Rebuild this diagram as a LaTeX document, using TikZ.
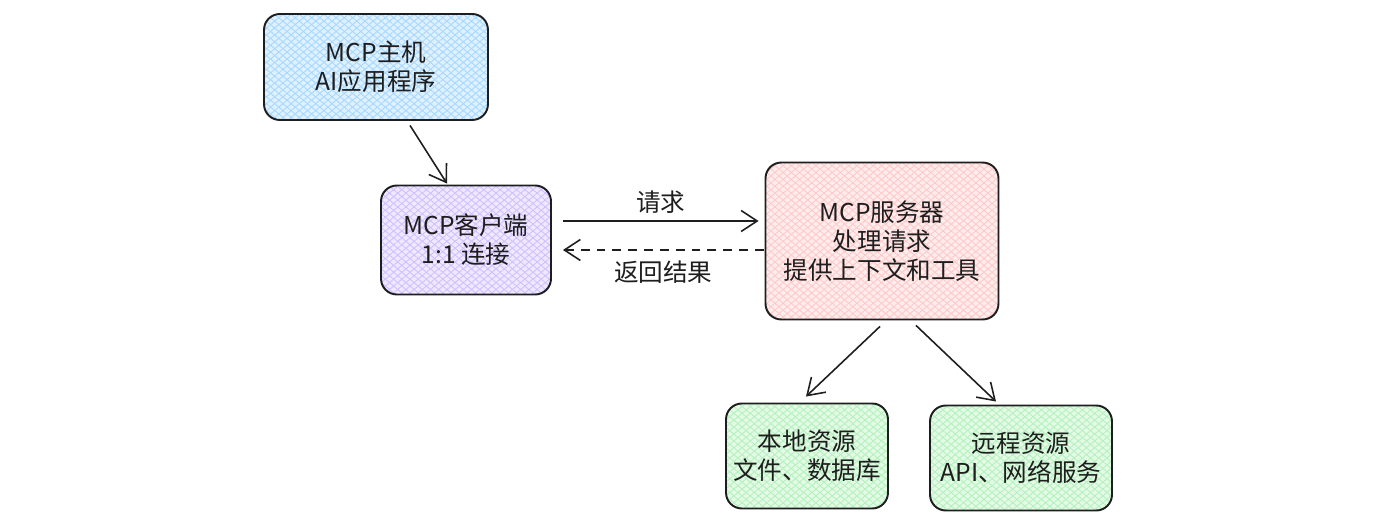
\documentclass[tikz,border=0pt]{standalone}
\usepackage{fontspec}
\setmainfont{Noto Sans CJK SC}
\usetikzlibrary{arrows.meta}
\usetikzlibrary{patterns.meta}
\definecolor{ink}{HTML}{1E1E1E}
\definecolor{c_blue}{HTML}{A5D8FF}
\definecolor{c_purple}{HTML}{D0BFFF}
\definecolor{c_pink}{HTML}{FFC9C9}
\definecolor{c_green}{HTML}{B2F2BB}
\tikzset{
	box/.style = {
		align=center,
		inner sep=0pt,
		text centered,
		font=\fontsize{14}{16.5}\selectfont,
		text=ink,
		draw=ink,
		line width=1.1pt,
		rounded corners=9pt,
		anchor=center
	},
	hatch/.style = {
		preaction={fill=#1!35},
		preaction={pattern={Lines[angle=40,distance=3pt,line width=0.5pt]}, pattern color=#1},
		pattern={Lines[angle=-40,distance=3pt,line width=0.5pt]},
		pattern color=#1
	},
	box_host/.style = {
		box,
		hatch=c_blue,
		minimum width=4.48cm,
		minimum height=2.12cm
	},
	box_client/.style = {
		box,
		hatch=c_purple,
		minimum width=3.4cm,
		minimum height=2.18cm
	},
	box_server/.style = {
		box,
		hatch=c_pink,
		minimum width=4.66cm,
		minimum height=3.14cm
	},
	box_res/.style = {
		box,
		hatch=c_green,
		minimum height=2.1cm
	},
	link/.style = {
		draw=ink,
		line width=0.9pt,
		-{Straight Barb[length=3.2mm,width=4.2mm,line width=0.9pt]}
	},
	label/.style = {
		font=\fontsize{14}{16}\selectfont,
		text=ink,
		inner sep=1pt
	},
}
\begin{document}
\begin{tikzpicture}[x=0.02cm,y=-0.02cm]
\useasboundingbox (0,0) rectangle (1397,520);
% boxes
\node [box_host] (host) at (376,67) {MCP主机\\AI应用程序};
\node [box_client] (client) at (466,240) {MCP客户端\\1:1 连接};
\node [box_server] (server) at (882,241) {MCP服务器\\处理请求\\提供上下文和工具};
\node [box_res, minimum width=3.24cm] (local) at (807,456) {本地资源\\文件、数据库};
\node [box_res, minimum width=3.64cm] (remote) at (1021,458) {远程资源\\API、网络服务};
% connectors
\draw [link] ([shift={(34,5)}]host.south) -- ([shift={(-19,-1)}]client.north);
\draw [link] ([shift={(11,-19)}]client.east) -- node [label, above=3pt] {请求} ([shift={(-6,-20)}]server.west);
\draw [link, line width=0.7pt, dash pattern=on 5pt off 4pt] ([shift={(-1,9)}]server.west) -- node [label, below=5pt] {返回结果} ([shift={(11,10)}]client.east);
\draw [link] ([shift={(-2,6)}]server.south) -- ([shift={(-1,-6)}]local.north);
\draw [link] ([shift={(34,5)}]server.south) -- ([shift={(-25,-3)}]remote.north);
\end{tikzpicture}
\end{document}
